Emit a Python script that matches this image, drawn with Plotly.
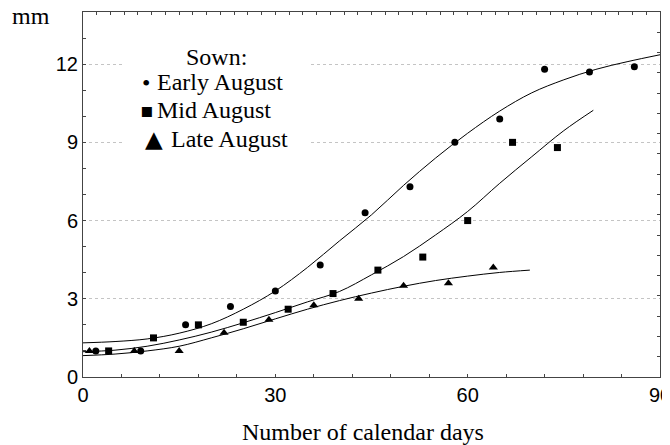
import plotly.graph_objects as go

# ---- observed data (days, mm) ----
early_days = [2, 9, 16, 23, 30, 37, 44, 51, 58, 65, 72, 79, 86]
early_mm = [1.0, 1.0, 2.0, 2.7, 3.3, 4.3, 6.3, 7.3, 9.0, 9.9, 11.8, 11.7, 11.9]

mid_days = [4, 11, 18, 25, 32, 39, 46, 53, 60, 67, 74]
mid_mm = [1.0, 1.5, 2.0, 2.1, 2.6, 3.2, 4.1, 4.6, 6.0, 9.0, 8.8]

late_days = [1, 8, 15, 22, 29, 36, 43, 50, 57, 64]
late_mm = [1.0, 1.0, 1.0, 1.7, 2.2, 2.75, 3.0, 3.5, 3.6, 4.2]

# ---- fitted curves ----
early_fit_days = [0, 5, 10, 15, 20, 25, 30, 35, 40, 45, 50, 55, 60, 65, 70, 75, 80, 85, 90]
early_fit_mm = [1.31, 1.36, 1.46, 1.68, 2.04, 2.60, 3.30, 4.20, 5.22, 6.22, 7.35, 8.40,
                9.35, 10.2, 10.9, 11.4, 11.8, 12.1, 12.36]

mid_fit_days = [0, 5, 10, 15, 20, 25, 30, 35, 40, 45, 50, 55, 60, 65, 70, 75, 79.6]
mid_fit_mm = [0.97, 1.03, 1.18, 1.42, 1.72, 2.08, 2.47, 2.88, 3.28, 3.92, 4.62, 5.45,
              6.35, 7.43, 8.45, 9.45, 10.23]

late_fit_days = [0, 5, 10, 15, 20, 25, 30, 35, 40, 45, 50, 55, 60, 65, 69.7]
late_fit_mm = [0.82, 0.88, 1.0, 1.18, 1.50, 1.85, 2.23, 2.60, 2.93, 3.22, 3.48, 3.70,
               3.87, 4.01, 4.10]

series_names = ["Early August", "Mid August", "Late August"]
legend_glyphs = ["•", "▪", "▲"]
x_tick_vals = [0, 30, 60, 90]
y_tick_vals = [0, 3, 6, 9, 12]
x_title = "Number of calendar days"
y_unit = "mm"
legend_title = "Sown:"

SERIF = "Liberation Serif, Times New Roman, serif"
SANS = "Liberation Sans, Arial, sans-serif"
FRAME = "#444444"

# The page body has an 8px margin, so the figure is drawn offset by 8px.
OFF = 8
FIG_W, FIG_H = 670 - OFF, 445 - OFF
# plot area in window pixels
L, R, T, B = 83, 660, 12, 377


def px_x(p):
    return (p - L) / (R - L)


def px_y(p):
    return (B - p) / (B - T)


fig = go.Figure()

curves = [(early_fit_days, early_fit_mm), (mid_fit_days, mid_fit_mm), (late_fit_days, late_fit_mm)]
for name, (cx, cy) in zip(series_names, curves):
    fig.add_trace(go.Scatter(x=cx, y=cy, mode="lines", name=name + " fit",
                             line=dict(color="black", width=1, shape="spline", smoothing=1.0),
                             showlegend=False, hoverinfo="skip"))

points = [(early_days, early_mm, "circle", 7), (mid_days, mid_mm, "square", 7),
          (late_days, late_mm, "triangle-up", 8)]
for name, (px, py, sym, sz) in zip(series_names, points):
    fig.add_trace(go.Scatter(x=px, y=py, mode="markers", name=name,
                             marker=dict(symbol=sym, size=sz, color="black"), showlegend=False))

# helper trace for top/right frame axes
fig.add_trace(go.Scatter(x=[None], y=[None], xaxis="x2", yaxis="y2", showlegend=False, hoverinfo="skip"))

# texts: unit label, x-axis title and the legend (drawn as text on a white box)
annotations = [
    dict(text=y_unit, xref="paper", yref="paper", x=px_x(31), y=px_y(16),
         xanchor="center", yanchor="middle", showarrow=False,
         font=dict(family=SERIF, size=24, color="black")),
    dict(text=x_title, xref="paper", yref="paper", x=px_x(362.5), y=px_y(431.5),
         xanchor="center", yanchor="middle", showarrow=False,
         font=dict(family=SERIF, size=24, color="black")),
    dict(text=legend_title, xref="paper", yref="paper", x=px_x(216), y=px_y(57),
         xanchor="center", yanchor="middle", showarrow=False,
         font=dict(family=SERIF, size=24, color="black")),
]
glyph_specs = [  # (glyph x center, glyph y center, glyph font size, text left x, text y center)
    (145.5, 83, 24, 155, 82),
    (146.5, 110.5, 20, 155, 110.5),
    (154, 139, 23, 169, 138.5),
]
for name, glyph, (gx, gy, gs, tx, ty) in zip(series_names, legend_glyphs, glyph_specs):
    gfont = SERIF if glyph == "•" else "DejaVu Sans"
    annotations.append(dict(text=glyph, xref="paper", yref="paper", x=px_x(gx), y=px_y(gy),
                            xanchor="center", yanchor="middle", showarrow=False,
                            font=dict(family=gfont, size=gs, color="black")))
    annotations.append(dict(text=name, xref="paper", yref="paper", x=px_x(tx), y=px_y(ty),
                            xanchor="left", yanchor="middle", showarrow=False,
                            font=dict(family=SERIF, size=24, color="black")))

fig.update_layout(
    width=FIG_W, height=FIG_H,
    margin=dict(l=L - OFF, r=FIG_W - (R - OFF), t=T - OFF, b=FIG_H - (B - OFF)),
    paper_bgcolor="white", plot_bgcolor="white",
    font=dict(family=SERIF, size=24, color="black"),
    xaxis=dict(range=[0, 90], tickvals=x_tick_vals, ticks="inside", ticklen=3, tickcolor=FRAME,
               showline=True, linecolor=FRAME, linewidth=1, showgrid=False, zeroline=False,
               automargin=False, ticklabeloverflow="allow",
               tickfont=dict(family=SANS, size=20, color="black"),
               minor=dict(dtick=6, tick0=0, ticks="inside", ticklen=3, tickcolor=FRAME, showgrid=False)),
    yaxis=dict(range=[0, 14], tickvals=y_tick_vals, ticks="inside", ticklen=3, tickcolor=FRAME,
               showline=True, linecolor=FRAME, linewidth=1, zeroline=False, automargin=False,
               showgrid=True, gridcolor="#c4c4c4", griddash="dot", gridwidth=1,
               tickfont=dict(family=SANS, size=20, color="black"),
               minor=dict(dtick=1, tick0=0, ticks="inside", ticklen=3, tickcolor=FRAME, showgrid=False)),
    xaxis2=dict(range=[0, 90], overlaying="x", side="top", showticklabels=False, ticks="inside",
                ticklen=3, tickcolor=FRAME, tick0=0, dtick=15 / 7, showline=True, linecolor=FRAME,
                linewidth=1, showgrid=False, zeroline=False, automargin=False),
    yaxis2=dict(range=[0, 14], overlaying="y", side="right", showticklabels=False, ticks="inside",
                ticklen=3, tickcolor=FRAME, tick0=0, dtick=14 / 18, showline=True, linecolor=FRAME,
                linewidth=1, showgrid=False, zeroline=False, automargin=False),
    shapes=[dict(type="rect", xref="paper", yref="paper", x0=px_x(123), x1=px_x(310),
                 y0=px_y(158), y1=px_y(32), fillcolor="white", line=dict(width=0), layer="above")],
    annotations=annotations,
    showlegend=False,
)

fig.write_html("out.html")
